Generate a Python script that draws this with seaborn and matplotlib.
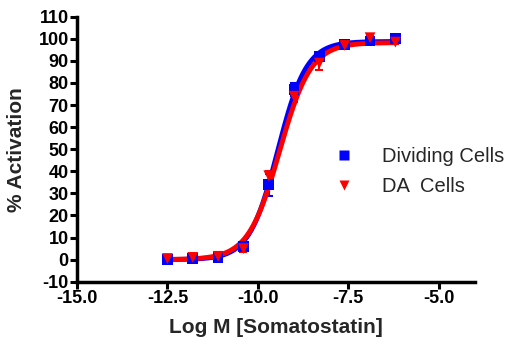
import numpy as np
import pandas as pd
import matplotlib
matplotlib.use("Agg")
import matplotlib.pyplot as plt
import seaborn as sns

# ---- data ----
log_conc = [-12.5, -11.8, -11.1, -10.4, -9.7, -9.0, -8.3, -7.6, -6.9, -6.2]
dividing = [0.0, 0.5, 1.0, 6.0, 34.0, 77.0, 92.0, 97.5, 99.0, 100.0]
dividing_err = [1.0, 1.0, 1.0, 1.5, 5.0, 3.0, 1.5, 1.0, 1.0, 1.0]
da_cells = [0.5, 1.0, 1.5, 5.0, 38.0, 74.0, 89.0, 97.0, 100.5, 98.5]
da_err = [1.0, 1.0, 1.0, 1.5, 2.0, 2.5, 3.0, 1.0, 1.0, 1.0]

# 4-parameter logistic fit parameters (bottom, top, logEC50, hill)
fit_dividing = [0.0, 98.8, -9.45, 1.1]
fit_da = [0.0, 98.3, -9.40, 1.0]

xticks = [-15.0, -12.5, -10.0, -7.5, -5.0]
yticks = list(range(-10, 111, 10))

sns.set_theme(style="ticks")
plt.rcParams['font.family'] = ['Liberation Sans', 'DejaVu Sans']
plt.rcParams['font.weight'] = 'bold'

df = pd.DataFrame({
    "x": log_conc * 2,
    "y": dividing + da_cells,
    "err": dividing_err + da_err,
    "series": ["Dividing Cells"] * len(log_conc) + ["DA  Cells"] * len(log_conc),
})

fig = plt.figure(figsize=(5.11, 3.45), dpi=100)
ax = fig.add_axes([0.1507, 0.1835, 0.7788, 0.768])

def fourpl(x, p):
    b, t, ec, h = p
    return b + (t - b) / (1 + 10 ** ((ec - x) * h))

xs = np.linspace(min(log_conc), max(log_conc), 300)
colors = {"Dividing Cells": "#0000ff", "DA  Cells": "#ff0000"}
markers = {"Dividing Cells": "s", "DA  Cells": "v"}
fits = {"Dividing Cells": fit_dividing, "DA  Cells": fit_da}

for name in ["Dividing Cells", "DA  Cells"]:
    sub = df[df.series == name]
    ax.errorbar(sub.x, sub.y, yerr=sub.err, fmt="none", ecolor=colors[name],
                elinewidth=1.5, capsize=3, capthick=1.5, zorder=2)
    sns.lineplot(x=xs, y=fourpl(xs, fits[name]), ax=ax, color=colors[name],
                 lw=3.5, zorder=3, legend=False)

sns.scatterplot(data=df, x="x", y="y", hue="series", style="series",
                palette=colors, markers=markers, s=60, edgecolor="none",
                ax=ax, zorder=4)

ax.set_xlim(-15, -4)
ax.set_ylim(-10, 110)
ax.set_xticks(xticks)
ax.set_xticklabels([f"{t:.1f}" for t in xticks], fontsize=13, fontweight="bold")
ax.set_yticks(yticks)
ax.set_yticklabels([str(t) for t in yticks], fontsize=13, fontweight="bold")
ax.tick_params(axis="both", direction="out", length=5, width=2.2, pad=1, colors="black")
for s in ["top", "right"]:
    ax.spines[s].set_visible(False)
for s in ["left", "bottom"]:
    ax.spines[s].set_linewidth(2.5)
    ax.spines[s].set_color("black")

ax.set_xlabel("Log M [Somatostatin]", fontsize=15, fontweight="bold", labelpad=8)
ax.set_ylabel("% Activation", fontsize=15, fontweight="bold", labelpad=9)

leg = ax.legend(loc="center left", bbox_to_anchor=(0.575, 0.415), frameon=False,
                prop={"size": 14.5, "weight": "normal"}, handletextpad=0.9,
                labelspacing=0.55, markerscale=0.9)

fig.savefig("out.png", dpi=100)
